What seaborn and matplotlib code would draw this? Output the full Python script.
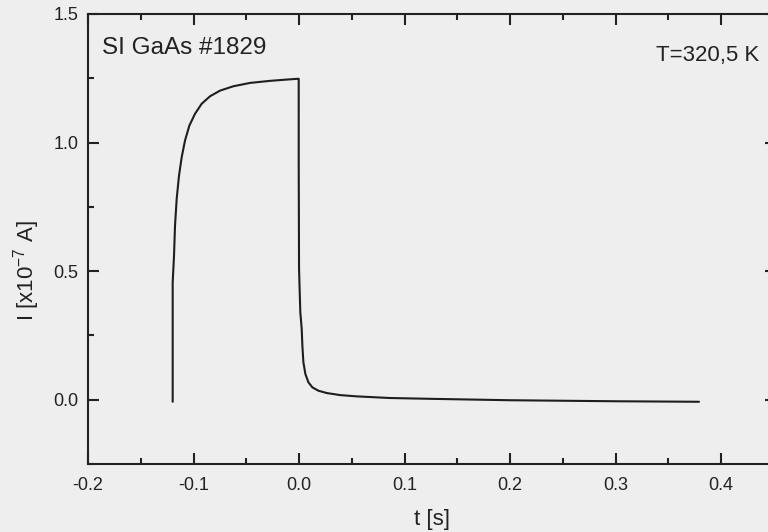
import pandas as pd
import matplotlib.pyplot as plt
import seaborn as sns
from matplotlib.ticker import MultipleLocator

# current transient: t in seconds, I in 1e-7 A
t = [-0.11975, -0.11975, -0.11848, -0.11754, -0.11596, -0.11374, -0.11121,
     -0.10806, -0.10395, -0.09858, -0.09226, -0.08436, -0.07488, -0.06224,
     -0.04645, -0.02749, -0.01169, -0.00126, -0.00032, -0.00030, 0.00000,
     0.00120, 0.00253, 0.00316, 0.00411, 0.00600, 0.00884, 0.01264, 0.01833,
     0.02623, 0.03886, 0.05466, 0.08626, 0.1305, 0.2000, 0.3000, 0.3790]
I = [-0.008, 0.457, 0.560, 0.677, 0.781, 0.872, 0.943,
     1.008, 1.066, 1.112, 1.151, 1.180, 1.202, 1.219,
     1.232, 1.240, 1.245, 1.248, 1.248, 0.898, 0.509,
     0.340, 0.275, 0.210, 0.146, 0.100, 0.068, 0.048, 0.035,
     0.026, 0.018, 0.013, 0.0066, 0.003, -0.002, -0.006, -0.008]

df = pd.DataFrame({"t": t, "I": I})

sns.set_style("ticks")
plt.rcParams["font.family"] = ["Liberation Sans", "DejaVu Sans"]
plt.rcParams["mathtext.fontset"] = "custom"
plt.rcParams["mathtext.rm"] = "Liberation Sans"
plt.rcParams["mathtext.it"] = "Liberation Sans"

bg = "#eeeeee"
ink = "#222222"
fig = plt.figure(figsize=(7.68, 5.32), dpi=100, facecolor=bg)
ax = fig.add_axes([88 / 768, 68 / 532, 688 / 768, 450 / 532])
ax.set_facecolor(bg)

sns.lineplot(data=df, x="t", y="I", estimator=None, sort=False,
             color="#1e1e1e", lw=1.5, ax=ax)

ax.set_xlim(-0.2, 0.452)
ax.set_ylim(-0.25, 1.5)
ax.xaxis.set_minor_locator(MultipleLocator(0.05))
ax.yaxis.set_minor_locator(MultipleLocator(0.25))
ax.set_xticks([-0.2, -0.1, 0.0, 0.1, 0.2, 0.3, 0.4])
ax.set_xticklabels(["-0.2", "-0.1", "0.0", "0.1", "0.2", "0.3", "0.4"])
ax.set_yticks([0.0, 0.5, 1.0, 1.5])
ax.set_yticklabels(["0.0", "0.5", "1.0", "1.5"])

for s in ax.spines.values():
    s.set_linewidth(1.5)
    s.set_color(ink)
ax.tick_params(which="both", direction="in", top=True, right=True,
               color=ink, width=1.5, labelsize=13, labelcolor=ink)
ax.tick_params(which="major", length=8)
ax.tick_params(which="minor", length=4.5)
ax.tick_params(axis="x", pad=9)
ax.tick_params(axis="y", pad=7)

ax.set_xlabel("t [s]", fontsize=16, color=ink)
ax.set_ylabel("I [x10$^{-7}$ A]", fontsize=16, color=ink)
ax.xaxis.set_label_coords(0.5, -0.1)
ax.yaxis.set_label_coords(-0.067, 0.43)

ax.text(0.02, 0.925, "SI GaAs #1829", transform=ax.transAxes,
        fontsize=17.5, color=ink, va="center", ha="left")
ax.text(0.976, 0.908, "T=320,5 K", transform=ax.transAxes,
        fontsize=16, color=ink, va="center", ha="right")

fig.savefig("out.png", dpi=100, facecolor=bg)
